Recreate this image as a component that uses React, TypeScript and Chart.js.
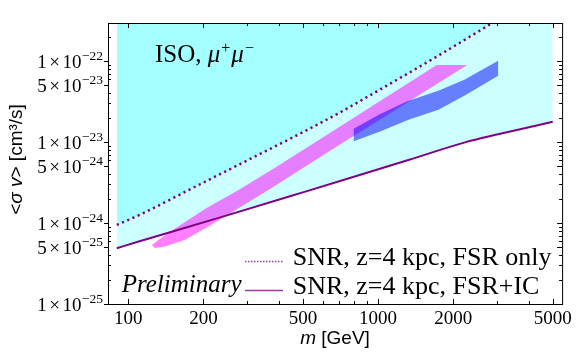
import React, { useEffect, useRef } from 'react';
import { Chart, registerables } from 'chart.js';

Chart.register(...registerables);

// ---------- data ----------
const massSolid = [90, 111, 239, 500, 837, 1322, 2227, 3020, 5000];
const sigmaSolid = [4.88e-25, 5.95e-25, 1.2e-24, 2.39e-24, 3.88e-24, 5.99e-24, 9.91e-24, 1.245e-23, 1.78e-23];

const massDotted = [90, 111, 193, 305, 478, 697, 1103, 1770, 2830, 3200];
const sigmaDotted = [9.47e-25, 1.26e-24, 2.99e-24, 6.1e-24, 1.23e-23, 2.28e-23, 5.13e-23, 1.2e-22, 2.89e-22, 3.67e-22];

const massMagenta = [124.3, 133.7, 146.6, 205.2, 278.5, 378, 513.4, 696.8, 1716, 2275, 696.8, 513.4, 378, 278.5, 205.2, 168.2, 140, 127.7];
const sigmaMagenta = [5.36e-25, 6.36e-25, 7.76e-25, 1.52e-24, 2.6e-24, 4.6e-24, 8.36e-24, 1.52e-23, 8.92e-23, 8.92e-23, 9.1e-24, 5.01e-24, 2.75e-24, 1.54e-24, 8.71e-25, 6.18e-25, 5.14e-25, 4.92e-25];

const massBlue = [799, 1006, 1300, 1743, 2213, 3022, 3022, 2213, 1743, 1324, 1024, 799];
const sigmaBlue = [1.456e-23, 2.17e-23, 3.17e-23, 4.3e-23, 5.87e-23, 1.01e-22, 6.58e-23, 3.73e-23, 2.5e-23, 1.88e-23, 1.356e-23, 1.02e-23];

const xMajorTicks = [100, 200, 500, 1000, 2000, 5000];
const xTickLabels = ['100', '200', '500', '1000', '2000', '5000'];
const yMajorTicks = [1e-25, 5e-25, 1e-24, 5e-24, 1e-23, 5e-23, 1e-22];
const yTickMantissa = ['1', '5', '1', '5', '1', '5', '1'];
const yTickExponent = ['−25', '−25', '−24', '−24', '−23', '−23', '−22'];

const seriesLabels = ['SNR, z=4 kpc, FSR only', 'SNR, z=4 kpc, FSR+IC'];
const xTitleParts = ['m', ' [GeV]'];
const xTitleItalic = [true, false];
const yTitleParts = ['<', 'σ', ' ', 'v', '> [cm³/s]'];
const yTitleItalic = [false, true, false, true, false];
const panelLabel = ['ISO, ', 'μ', '+', 'μ', '−'];
const watermark = 'Preliminary';

// ---------- helpers ----------
const X_MIN = 83;
const X_MAX = 5450;
const Y_MIN = 1e-25;
const Y_MAX = 2.95e-22;

const SERIF = '"Liberation Serif", "DejaVu Serif", serif';
const SANS = '"Liberation Sans", Arial, sans-serif';
const PURPLE = '#800080';

const pts = (xs: number[], ys: number[]) => xs.map((x, i) => ({ x, y: ys[i] }));

const xMinor: number[] = [];
for (let d = 100; d <= 1000; d *= 10) {
  for (let k = 1; k <= 9; k++) {
    const v = k * d;
    if (v <= 5000 && !xMajorTicks.includes(v)) xMinor.push(v);
  }
}
const yMinor: number[] = [];
for (let e = -25; e <= -23; e++) {
  for (let k = 2; k <= 9; k++) {
    if (k !== 5) yMinor.push(k * Math.pow(10, e));
  }
}
yMinor.push(2e-22);

function drawMixed(ctx: any, parts: string[], italic: boolean[], size: number, family: string, cx: number, cy: number) {
  const fonts = parts.map((_, i) => `${italic[i] ? 'italic ' : ''}${size}px ${family}`);
  let total = 0;
  const widths = parts.map((p, i) => {
    ctx.font = fonts[i];
    const w = ctx.measureText(p).width;
    total += w;
    return w;
  });
  let x = cx - total / 2;
  ctx.textAlign = 'left';
  ctx.textBaseline = 'middle';
  parts.forEach((p, i) => {
    ctx.font = fonts[i];
    ctx.fillText(p, x, cy);
    x += widths[i];
  });
}

const decorPlugin = {
  id: 'decor',
  afterDatasetsDraw(chart: any) {
    const { ctx, chartArea: a, scales } = chart;
    const xs = scales.x;
    const ys = scales.y;
    ctx.save();
    ctx.strokeStyle = '#000';
    ctx.lineWidth = 1;
    ctx.strokeRect(a.left + 0.5, a.top + 0.5, a.right - a.left, a.bottom - a.top);
    ctx.beginPath();
    const xAll = [...xMajorTicks.map((v) => [v, 5]), ...xMinor.map((v) => [v, 3])];
    for (const [v, len] of xAll) {
      const p = Math.round(xs.getPixelForValue(v)) + 0.5;
      ctx.moveTo(p, a.bottom);
      ctx.lineTo(p, a.bottom - len);
      ctx.moveTo(p, a.top);
      ctx.lineTo(p, a.top + len);
    }
    const yAll = [...yMajorTicks.map((v) => [v, 5]), ...yMinor.map((v) => [v, 3])];
    for (const [v, len] of yAll) {
      const p = Math.round(ys.getPixelForValue(v)) + 0.5;
      if (len === 5) {
        ctx.moveTo(a.left - 4, p);
        ctx.lineTo(a.left + 1, p);
      } else {
        ctx.moveTo(a.left, p);
        ctx.lineTo(a.left + 3, p);
      }
      ctx.moveTo(a.right, p);
      ctx.lineTo(a.right - len, p);
    }
    ctx.stroke();

    ctx.fillStyle = '#000';
    ctx.textBaseline = 'alphabetic';

    // y tick labels with superscript exponents
    yMajorTicks.forEach((v, i) => {
      const p = ys.getPixelForValue(v);
      const base = p + 7;
      let xr = a.left - 5;
      ctx.textAlign = 'right';
      ctx.font = `13.5px ${SERIF}`;
      ctx.fillText(yTickExponent[i], xr, base - 8);
      xr -= ctx.measureText(yTickExponent[i]).width + 0.5;
      ctx.font = `19px ${SERIF}`;
      ctx.fillText('10', xr, base);
      xr -= ctx.measureText('10').width + 2.5;
      ctx.fillText('×', xr, base);
      xr -= ctx.measureText('×').width + 2.5;
      ctx.fillText(yTickMantissa[i], xr, base);
    });

    // axis titles
    drawMixed(ctx, xTitleParts, xTitleItalic, 19, SANS, (a.left + a.right) / 2, a.bottom + 35);
    ctx.save();
    ctx.translate(17, (a.top + a.bottom) / 2 - 4);
    ctx.rotate(-Math.PI / 2);
    drawMixed(ctx, yTitleParts, yTitleItalic, 19, SANS, 0, 0);
    ctx.restore();

    ctx.textAlign = 'left';
    ctx.textBaseline = 'alphabetic';

    // panel label
    let tx = a.left + 47;
    const ty = a.top + 38.5;
    ctx.font = `25px ${SERIF}`;
    ctx.fillText(panelLabel[0], tx, ty);
    tx += ctx.measureText(panelLabel[0]).width;
    for (let i = 1; i < panelLabel.length; i += 2) {
      ctx.font = `italic 25px ${SERIF}`;
      ctx.fillText(panelLabel[i], tx, ty);
      tx += ctx.measureText(panelLabel[i]).width + 1;
      ctx.font = `16px ${SERIF}`;
      ctx.fillText(panelLabel[i + 1], tx, ty - 9);
      tx += ctx.measureText(panelLabel[i + 1]).width + 1;
    }

    // watermark
    ctx.font = `italic 25px ${SERIF}`;
    ctx.fillText(watermark, a.left + 13.7, a.top + 268.5);

    // legend
    const lx0 = a.left + 137;
    const lx1 = a.left + 175;
    const rows = [
      { y: a.top + 238.5, base: a.top + 242, dash: [1.5, 1.5] },
      { y: a.top + 267.5, base: a.top + 271.3, dash: [] as number[] },
    ];
    rows.forEach((r, i) => {
      ctx.save();
      ctx.strokeStyle = '#9a3aa2';
      ctx.lineWidth = 1.6;
      ctx.setLineDash(r.dash);
      ctx.beginPath();
      ctx.moveTo(lx0, r.y);
      ctx.lineTo(lx1, r.y);
      ctx.stroke();
      ctx.restore();
      ctx.font = `26px ${SERIF}`;
      ctx.fillStyle = '#000';
      ctx.fillText(seriesLabels[i], a.left + 184.7, r.base);
    });
    ctx.restore();
  },
};

export default function App() {
  const ref = useRef<HTMLCanvasElement>(null);
  useEffect(() => {
    const solid = pts(massSolid, sigmaSolid);
    const dotted = pts(massDotted, sigmaDotted);
    const chart = new Chart(ref.current as HTMLCanvasElement, {
      type: 'line',
      data: {
        datasets: [
          {
            label: seriesLabels[0],
            data: dotted,
            borderColor: PURPLE,
            borderWidth: 2.5,
            borderDash: [2.2, 3.5],
            pointRadius: 0,
            fill: false,
            cubicInterpolationMode: 'monotone',
            order: 1,
          },
          {
            label: seriesLabels[1],
            data: solid,
            borderColor: PURPLE,
            borderWidth: 2,
            pointRadius: 0,
            fill: false,
            cubicInterpolationMode: 'monotone',
            order: 2,
          },
          {
            label: 'blue band',
            data: pts(massBlue, sigmaBlue),
            borderColor: 'rgba(0,0,0,0)',
            borderWidth: 0,
            backgroundColor: 'rgba(0,0,255,0.5)',
            pointRadius: 0,
            fill: 'shape',
            tension: 0,
            order: 7,
          },
          {
            label: 'magenta band',
            data: pts(massMagenta, sigmaMagenta),
            borderColor: 'rgba(0,0,0,0)',
            borderWidth: 0,
            backgroundColor: 'rgba(255,0,255,0.5)',
            pointRadius: 0,
            fill: 'shape',
            tension: 0,
            order: 8,
          },
          {
            label: 'dotted fill',
            data: dotted,
            borderColor: 'rgba(0,0,0,0)',
            borderWidth: 0,
            backgroundColor: 'rgba(0,255,255,0.2)',
            pointRadius: 0,
            fill: 'end',
            cubicInterpolationMode: 'monotone',
            order: 9,
          },
          {
            label: 'solid fill',
            data: solid,
            borderColor: 'rgba(0,0,0,0)',
            borderWidth: 0,
            backgroundColor: 'rgba(0,255,255,0.2)',
            pointRadius: 0,
            fill: 'end',
            cubicInterpolationMode: 'monotone',
            order: 10,
          },
        ] as any,
      },
      options: {
        responsive: false,
        animation: false,
        devicePixelRatio: 1,
        layout: { padding: { left: 0, top: 23, right: 12, bottom: 0 } },
        plugins: { legend: { display: false }, tooltip: { enabled: false } },
        scales: {
          x: {
            type: 'logarithmic',
            position: 'bottom',
            min: X_MIN,
            max: X_MAX,
            grid: { display: false, drawTicks: false },
            border: { display: false },
            ticks: {
              autoSkip: false,
              maxRotation: 0,
              minRotation: 0,
              padding: 4,
              color: '#000',
              font: { family: SERIF, size: 19 },
              callback: (v: any) => {
                const i = xMajorTicks.indexOf(v);
                return i >= 0 ? xTickLabels[i] : '';
              },
            },
            title: { display: false },
            afterBuildTicks: (s: any) => {
              s.ticks = [...xMajorTicks, ...xMinor].sort((p, q) => p - q).map((v) => ({ value: v }));
            },
            afterFit: (s: any) => {
              s.height = 51;
            },
          },
          y: {
            type: 'logarithmic',
            position: 'left',
            min: Y_MIN,
            max: Y_MAX,
            grid: { display: false, drawTicks: false },
            border: { display: false },
            ticks: {
              display: false,
              autoSkip: false,
            },
            title: { display: false },
            afterBuildTicks: (s: any) => {
              s.ticks = [...yMajorTicks, ...yMinor].sort((p, q) => p - q).map((v) => ({ value: v }));
            },
            afterFit: (s: any) => {
              s.width = 108;
            },
          },
        },
      } as any,
      plugins: [decorPlugin],
    });
    return () => chart.destroy();
  }, []);
  return (
    <div style={{ position: 'absolute', left: 0, top: 0, width: 576, height: 355, background: '#fff' }}>
      <canvas ref={ref} width={576} height={355} style={{ display: 'block', width: 576, height: 355 }} />
    </div>
  );
}
